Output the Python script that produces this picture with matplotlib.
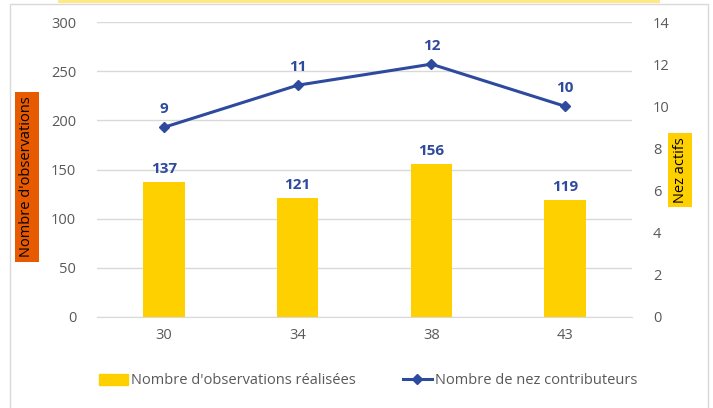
import matplotlib.pyplot as plt
from matplotlib.lines import Line2D
from matplotlib.patches import Patch, Rectangle

plt.rcParams['font.family'] = ['Open Sans', 'DejaVu Sans']

categories = ["30", "34", "38", "43"]
observations = [137, 121, 156, 119]
contributeurs = [9, 11, 12, 10]

bar_color = "#FFD000"
line_color = "#2E4A9E"
tick_color = "#595959"

fig = plt.figure(figsize=(7.13, 4.08), dpi=100)
ax = fig.add_axes([97 / 713, 1 - 317 / 408, (632 - 97) / 713, (317 - 22) / 408])
ax2 = ax.twinx()

x = list(range(len(categories)))
ax.bar(x, observations, width=0.31, color=bar_color, zorder=2)
ax2.plot(x, contributeurs, color=line_color, lw=2.2, marker="D", ms=5, zorder=3)

for xi, v in zip(x, observations):
    ax.text(xi, v + 6, str(v), ha="center", va="bottom", color=line_color,
            fontsize=11, fontweight="bold")
for xi, v in zip(x, contributeurs):
    ax2.text(xi, v + 0.55, str(v), ha="center", va="bottom", color=line_color,
             fontsize=11, fontweight="bold")

ax.set_xlim(-0.5, 3.5)
ax.set_ylim(0, 300)
ax.set_yticks(range(0, 301, 50))
ax2.set_ylim(0, 14)
ax2.set_yticks(range(0, 15, 2))
ax.set_xticks(x)
ax.set_xticklabels(categories)
ax.yaxis.grid(True, color="#D9D9D9", lw=1, zorder=0)
ax.set_axisbelow(True)

for a in (ax, ax2):
    for s in a.spines.values():
        s.set_visible(False)
    a.tick_params(length=0, labelsize=10.5, colors=tick_color, pad=15)
ax.tick_params(axis="x", pad=8)
ax.spines["bottom"].set_visible(True)
ax.spines["bottom"].set_color("#D9D9D9")

fig.text(27 / 713, 1 - 177 / 408, "Nombre d'observations", rotation=90,
         ha="center", va="center", fontsize=10.5, color="black",
         bbox=dict(boxstyle="square,pad=0.3", fc="#E85A00", ec="none"))
fig.text(680 / 713, 1 - 170 / 408, "Nez actifs", rotation=90,
         ha="center", va="center", fontsize=10.5, color="black",
         bbox=dict(boxstyle="square,pad=0.3", fc=bar_color, ec="none"))

# chart frame and top strip
fig.patches.append(Rectangle((10 / 713, -0.01), 698 / 713, 1 - 4 / 408 + 0.01,
                             transform=fig.transFigure, fill=False,
                             ec="#D9D9D9", lw=1))
fig.patches.append(Rectangle((58 / 713, 1 - 2.5 / 408), 602 / 713, 2.5 / 408,
                             transform=fig.transFigure, fc="#FFE985", ec="none"))

handles = [Patch(color=bar_color, label="Nombre d'observations réalisées"),
           Line2D([], [], color=line_color, lw=2.2, marker="D", ms=5,
                  label="Nombre de nez contributeurs")]
fig.legend(handles=handles, loc="center", bbox_to_anchor=(368 / 713, 1 - 381 / 408),
           ncol=2, frameon=False, fontsize=10.5, labelcolor=tick_color,
           handlelength=2.0, handletextpad=0.2, columnspacing=3.2)

fig.savefig("out.png", dpi=100)
